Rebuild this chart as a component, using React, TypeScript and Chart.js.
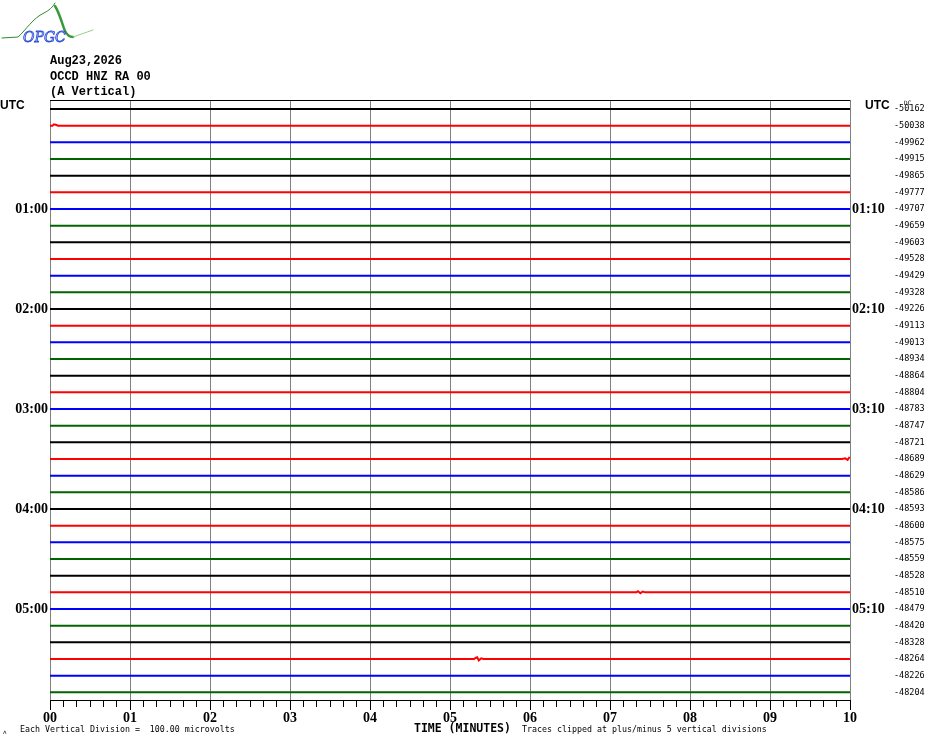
import React, { useEffect, useRef } from "react";
import { Chart, registerables } from "chart.js";

Chart.register(...registerables);

// ---- data ----
const HEADER_LINES = ["Aug23,2026", "OCCD HNZ RA 00", "(A Vertical)"];
const MINUTE_LABELS = ["00", "01", "02", "03", "04", "05", "06", "07", "08", "09", "10"];
const TICKS_PER_MINUTE = 6;
const TRACES_PER_HOUR = 6;
const HOUR_LABELS_LEFT = ["01:00", "02:00", "03:00", "04:00", "05:00"];
const HOUR_LABELS_RIGHT = ["01:10", "02:10", "03:10", "04:10", "05:10"];
const DC_VALUES = [
  -50162, -50038, -49962, -49915, -49865, -49777, -49707, -49659, -49603, -49528,
  -49429, -49328, -49226, -49113, -49013, -48934, -48864, -48804, -48783, -48747,
  -48721, -48689, -48629, -48586, -48593, -48600, -48575, -48559, -48528, -48510,
  -48479, -48420, -48328, -48264, -48226, -48204,
];
const TRACE_COLORS = ["#000000", "#ff0000", "#0000ff", "#006400"];
// small visible deflections: [minute, deflection in trace spacings (negative = up)]
const WIGGLE_TRACE_1: [number, number][] = [[0.03, 0], [0.05, -0.08], [0.08, -0.04], [0.1, 0]];
const WIGGLE_TRACE_21: [number, number][] = [[9.9, 0], [9.94, -0.04], [9.97, 0.05], [9.99, -0.08], [10, -0.06]];
const WIGGLE_TRACE_29: [number, number][] = [[7.33, 0], [7.35, -0.07], [7.38, 0.05], [7.41, -0.05], [7.44, 0]];
const WIGGLE_TRACE_33: [number, number][] = [[5.3, 0], [5.32, -0.06], [5.34, -0.1], [5.36, 0.09], [5.39, -0.04], [5.42, 0]];
const WIGGLES: { [k: number]: [number, number][] } = {
  1: WIGGLE_TRACE_1,
  21: WIGGLE_TRACE_21,
  29: WIGGLE_TRACE_29,
  33: WIGGLE_TRACE_33,
};

const N_TRACES = DC_VALUES.length;
const LAST_MINUTE = MINUTE_LABELS.length - 1;

function buildDatasets() {
  return DC_VALUES.map((_, i) => {
    const pts: { x: number; y: number }[] = [{ x: 0, y: i }];
    const w = WIGGLES[i];
    if (w) w.forEach(([m, d]) => pts.push({ x: m, y: i + d }));
    if (!w || w[w.length - 1][0] < LAST_MINUTE) pts.push({ x: LAST_MINUTE, y: i });
    return {
      data: pts,
      borderColor: TRACE_COLORS[i % TRACE_COLORS.length],
      borderWidth: 2,
      pointRadius: 0,
      tension: 0,
      fill: false,
    };
  });
}

const isMajor = (v: number) => Math.abs(v - Math.round(v)) < 1e-6;

const decor = {
  id: "helicorderDecor",
  afterDraw(chart: any) {
    const ctx = chart.ctx as CanvasRenderingContext2D;
    const { left, right, top, bottom } = chart.chartArea;
    const xScale = chart.scales.x;
    ctx.save();
    // top border
    ctx.strokeStyle = "#000";
    ctx.lineWidth = 1;
    ctx.beginPath();
    ctx.moveTo(left, top + 0.5);
    ctx.lineTo(right, top + 0.5);
    ctx.stroke();
    // longer major tick marks
    ctx.beginPath();
    MINUTE_LABELS.forEach((_, m) => {
      const px = Math.round(xScale.getPixelForValue(m)) + 0.5;
      ctx.moveTo(px, bottom);
      ctx.lineTo(px, bottom + 10);
    });
    ctx.stroke();

    // logo
    ctx.lineCap = "round";
    ctx.strokeStyle = "#2e8b2e";
    ctx.lineWidth = 1;
    ctx.beginPath();
    ctx.moveTo(2, 38);
    ctx.lineTo(18, 37);
    ctx.bezierCurveTo(26, 30, 33, 18, 44, 13);
    ctx.quadraticCurveTo(52, 9, 55, 3);
    ctx.stroke();
    ctx.strokeStyle = "#3a9a3a";
    ctx.lineWidth = 2.5;
    ctx.beginPath();
    ctx.moveTo(55, 6);
    ctx.bezierCurveTo(60, 14, 62, 24, 65, 31);
    ctx.quadraticCurveTo(68, 37, 73, 37);
    ctx.stroke();
    ctx.strokeStyle = "#9acd8a";
    ctx.lineWidth = 1;
    ctx.beginPath();
    ctx.moveTo(73, 37);
    ctx.lineTo(93, 30);
    ctx.stroke();
    ctx.strokeStyle = "#2a4fd8";
    ctx.lineWidth = 0.8;
    ctx.font = 'italic 14px "DejaVu Serif"';
    ctx.textBaseline = "alphabetic";
    ctx.strokeText("OPGC", 23, 42);
    ctx.fillStyle = "rgba(42,79,216,0.35)";
    ctx.fillText("OPGC", 23, 42);

    // header
    ctx.fillStyle = "#000";
    ctx.font = 'bold 12px "Liberation Mono"';
    ctx.textBaseline = "middle";
    HEADER_LINES.forEach((t, k) => ctx.fillText(t, left, 61 + k * 15.5));

    // UTC labels
    const yScale = chart.scales.y;
    const y0 = yScale.getPixelForValue(0) - 3;
    ctx.font = 'bold 12px "Liberation Sans"';
    ctx.fillText("UTC", 0, y0);
    ctx.fillText("UTC", right + 15, y0);
    ctx.font = '6px "DejaVu Sans Mono"';
    ctx.fillText("DC", 904, yScale.getPixelForValue(0) - 6);

    // footer
    const yb = 730;
    ctx.font = '8.3px "DejaVu Sans Mono"';
    ctx.fillText("Each Vertical Division =  100.00 microvolts", 20, yb);
    ctx.fillText("Traces clipped at plus/minus 5 vertical divisions", 522, yb);
    ctx.font = 'bold 11.5px "DejaVu Sans Mono"';
    ctx.fillText("TIME (MINUTES)", 414, yb - 1);
    ctx.font = '6px "DejaVu Sans"';
    ctx.fillText("\u028c", 3, yb + 2);
    ctx.restore();
  },
};

export default function App() {
  const ref = useRef<HTMLCanvasElement | null>(null);
  useEffect(() => {
    if (!ref.current) return;
    const yRange = { min: -0.54, max: N_TRACES - 0.54, reverse: true };
    const traceTicks = (step: number) => (scale: any) => {
      const t: { value: number }[] = [];
      for (let i = step; i < N_TRACES; i += step) t.push({ value: i });
      scale.ticks = t;
    };
    const hourFont = { family: "Liberation Serif", size: 14, weight: "bold" };
    const chart = new Chart(ref.current, {
      type: "line",
      data: { datasets: buildDatasets() as any },
      plugins: [decor],
      options: {
        animation: false,
        responsive: false,
        devicePixelRatio: 1,
        layout: { padding: { top: 100, left: 0, right: 0, bottom: 0 } },
        plugins: { legend: { display: false }, tooltip: { enabled: false }, title: { display: false } },
        scales: {
          x: {
            type: "linear",
            min: 0,
            max: LAST_MINUTE,
            z: 1,
            afterBuildTicks: (scale: any) => {
              const t: { value: number }[] = [];
              for (let i = 0; i <= LAST_MINUTE * TICKS_PER_MINUTE; i++) t.push({ value: i / TICKS_PER_MINUTE });
              scale.ticks = t;
            },
            afterFit: (scale: any) => {
              scale.height = 44;
            },
            grid: {
              drawOnChartArea: true,
              drawTicks: true,
              tickLength: 7,
              color: (c: any) => (c.tick && isMajor(c.tick.value) ? "#808080" : "rgba(0,0,0,0)"),
              tickColor: "#000",
              lineWidth: 1,
            },
            border: { display: true, color: "#000", width: 1 },
            ticks: {
              autoSkip: false,
              maxRotation: 0,
              padding: 3,
              color: "#000",
              font: hourFont,
              callback: (v: any) => (isMajor(Number(v)) ? MINUTE_LABELS[Math.round(Number(v))] : ""),
            },
          },
          y: {
            type: "linear",
            position: "left",
            ...yRange,
            afterBuildTicks: traceTicks(TRACES_PER_HOUR),
            afterFit: (scale: any) => {
              scale.width = 50;
            },
            grid: { display: false, drawTicks: false, tickLength: 0 },
            border: { display: false },
            ticks: {
              autoSkip: false,
              padding: 2,
              color: "#000",
              font: hourFont,
              callback: (v: any) => HOUR_LABELS_LEFT[Math.round(Number(v)) / TRACES_PER_HOUR - 1] ?? "",
            },
          },
          yTime: {
            type: "linear",
            position: "right",
            weight: 0,
            ...yRange,
            afterBuildTicks: traceTicks(TRACES_PER_HOUR),
            afterFit: (scale: any) => {
              scale.width = 43;
            },
            grid: { display: false, drawTicks: false, tickLength: 0 },
            border: { display: false },
            ticks: {
              autoSkip: false,
              padding: 2,
              color: "#000",
              font: hourFont,
              callback: (v: any) => HOUR_LABELS_RIGHT[Math.round(Number(v)) / TRACES_PER_HOUR - 1] ?? "",
            },
          },
          yDc: {
            type: "linear",
            position: "right",
            weight: 1,
            ...yRange,
            afterBuildTicks: (scale: any) => {
              scale.ticks = DC_VALUES.map((_, i) => ({ value: i }));
            },
            afterFit: (scale: any) => {
              scale.width = 37;
            },
            grid: { display: false, drawTicks: false, tickLength: 0 },
            border: { display: false },
            ticks: {
              autoSkip: false,
              padding: 1,
              color: "#000",
              font: { family: "DejaVu Sans Mono", size: 8.5 },
              callback: (v: any) => String(DC_VALUES[Math.round(Number(v))]),
            },
          },
        },
      } as any,
    });
    return () => chart.destroy();
  }, []);
  return (
    <div style={{ position: "absolute", left: 0, top: 0, width: 930, height: 744, background: "#fff" }}>
      <canvas ref={ref} width={930} height={744} />
    </div>
  );
}
